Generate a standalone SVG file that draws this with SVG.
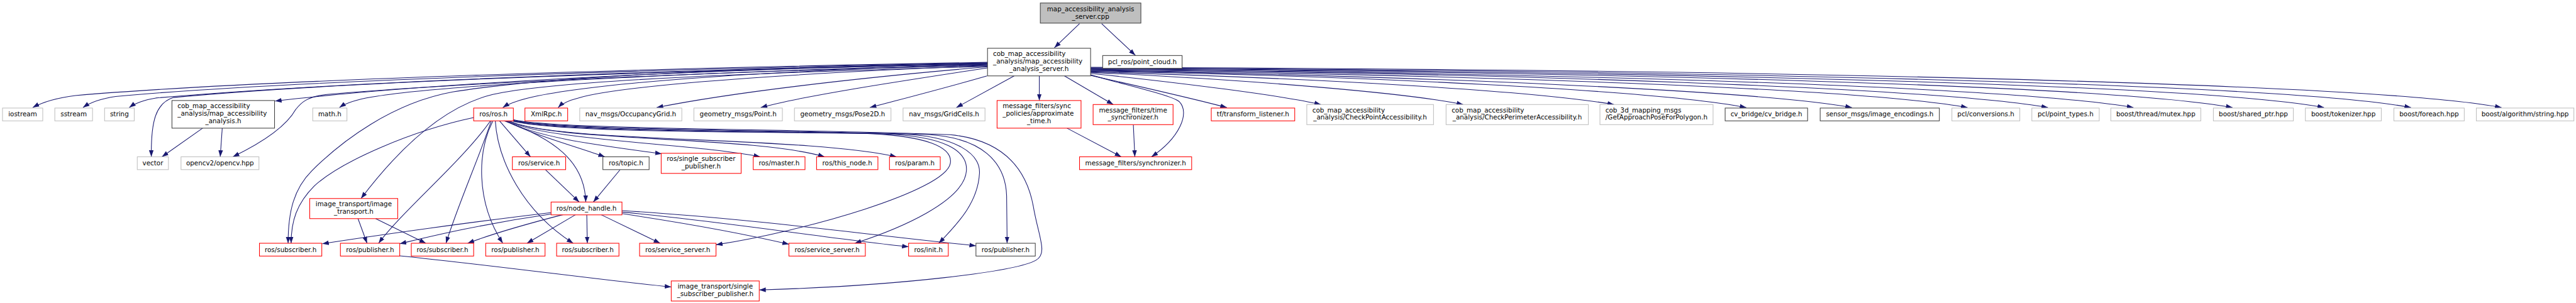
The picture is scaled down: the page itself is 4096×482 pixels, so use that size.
<svg xmlns="http://www.w3.org/2000/svg" width="4096" height="482" viewBox="0 0 4096 482">
<style>
.nd rect{fill:#fff;stroke-width:1.33}
.g rect{stroke:#bfbfbf}
.r rect{stroke:#ff0000}
.k rect{stroke:#404040}
#root rect{fill:#bfbfbf;stroke:#404040}
text{font-family:"DejaVu Sans",sans-serif;font-size:13px;fill:#000}
.m{text-anchor:middle}
#edges path{fill:none;stroke:#191970;stroke-width:1.33;marker-end:url(#a)}
</style>
<defs>
<marker id="a" viewBox="0 0 13 10" refX="13" refY="5" markerWidth="13" markerHeight="10" markerUnits="userSpaceOnUse" orient="auto"><path d="M0,0.4 L13,5 L0,9.6 z" fill="#191970"/></marker>
</defs>
<rect width="4096" height="482" fill="#fff"/>
<g transform="scale(0.7995)">
<g id="edges">
<path d="M2147,47 L2097,95"/>
<path d="M2191,47 L2258,110"/>
<path d="M1964,124 C1300,135 500,160 150,190 C110,195 85,203 65,214"/>
<path d="M1964,125 C1300,137 550,162 230,192 C195,197 178,205 165,214"/>
<path d="M1964,126 C1300,139 650,165 310,195 C285,199 268,206 257,214"/>
<path d="M1964,126 C1400,140 700,160 345,194 C310,205 300,240 301,312"/>
<path d="M1964,127 C1500,135 900,160 547,201"/>
<path d="M1964,130 C1500,140 900,165 650,188 C610,192 598,205 588,218 C570,250 525,282 463,312"/>
<path d="M1964,128 C1500,140 900,165 740,193 C710,198 688,205 675,214"/>
<path d="M1964,132 C1500,145 1100,160 980,188 C880,212 790,300 718,395"/>
<path d="M1964,127 C1500,135 1100,150 900,183 C780,205 680,280 620,340 C585,375 573,420 573,484"/>
<path d="M1964,129 C1600,138 1200,160 1050,195 C1030,200 1012,206 1000,214"/>
<path d="M1964,131 C1700,140 1250,165 1150,195 C1130,200 1118,206 1110,214"/>
<path d="M1964,133 C1700,155 1450,185 1306,214"/>
<path d="M1964,135 C1800,160 1600,190 1513,214"/>
<path d="M1963,151 C1880,175 1790,198 1730,214"/>
<path d="M2017,151 L1902,214"/>
<path d="M2067,151 L2067,200"/>
<path d="M2117,151 L2214,208"/>
<path d="M2169,149 C2250,172 2330,190 2345,202 C2368,225 2345,275 2290,312"/>
<path d="M2169,150 C2280,175 2380,198 2440,214"/>
<path d="M2169,146 C2350,165 2550,190 2627,208"/>
<path d="M2169,144 C2500,160 2800,185 2910,208"/>
<path d="M2169,143 C2600,155 3050,180 3210,208"/>
<path d="M2169,142 C2700,150 3300,180 3473,214"/>
<path d="M2169,141 C2800,150 3500,180 3683,214"/>
<path d="M2169,140 C2900,148 3700,175 3913,214"/>
<path d="M2169,139 C3000,145 3850,175 4073,214"/>
<path d="M2169,138 C3100,145 4000,172 4243,214"/>
<path d="M2169,137 C3200,143 4200,170 4440,214"/>
<path d="M2169,136 C3300,142 4380,168 4622,214"/>
<path d="M2169,135 C3400,140 4550,167 4795,214"/>
<path d="M2169,134 C3500,138 4720,165 4975,214"/>
<path d="M942,234 C820,260 680,320 625,370 C590,405 579,440 579,484"/>
<path d="M975,241 C920,320 800,420 753,484"/>
<path d="M977,241 C950,320 910,410 887,484"/>
<path d="M980,241 C950,300 945,400 1000,484"/>
<path d="M985,240 C990,320 1040,420 1140,484"/>
<path d="M993,240 L1055,312"/>
<path d="M1002,240 C1100,275 1163,320 1165,402"/>
<path d="M1004,240 C1060,268 1140,290 1203,312"/>
<path d="M1006,240 C1070,275 1200,290 1316,306"/>
<path d="M1008,240 C1080,280 1380,285 1512,312"/>
<path d="M1010,240 C1090,282 1500,270 1640,312"/>
<path d="M1012,240 C1100,285 1600,270 1783,312"/>
<path d="M1013,239 C1080,262 1400,262 1700,265 C1850,268 1895,295 1890,325 C1880,380 1600,460 1424,487"/>
<path d="M1014,239 C1080,261 1450,261 1750,266 C1880,270 1925,300 1922,340 C1918,400 1790,455 1700,484"/>
<path d="M1015,238 C1080,260 1500,260 1800,267 C1900,272 1950,305 1948,345 C1945,400 1910,440 1867,484"/>
<path d="M1016,238 C1080,259 1550,258 1850,268 C1950,275 2000,320 2002,390 L2003,484"/>
<path d="M1017,237 C1080,258 1600,256 1890,268 C1990,278 2040,330 2055,410 C2065,470 2085,505 2060,518 C2020,540 1800,568 1510,577"/>
<path d="M1096,423 C950,440 750,468 641,485"/>
<path d="M1096,426 C950,447 850,472 795,485"/>
<path d="M1120,427 C1050,445 980,465 930,484"/>
<path d="M1145,427 L1048,484"/>
<path d="M1167,427 L1168,484"/>
<path d="M1195,427 L1313,484"/>
<path d="M1237,425 C1350,442 1480,465 1569,486"/>
<path d="M1237,422 C1450,442 1650,475 1807,491"/>
<path d="M1237,419 C1500,435 1750,470 1941,489"/>
<path d="M1085,338 L1152,402"/>
<path d="M1233,338 L1180,402"/>
<path d="M712,435 L730,484"/>
<path d="M747,435 L847,484"/>
<path d="M795,509 C1000,530 1200,558 1335,571"/>
<path d="M403,255 L322,312"/>
<path d="M442,255 L438,312"/>
<path d="M2122,255 L2230,312"/>
<path d="M2254,248 L2257,312"/>
</g>
<g id="root" class="nd"><rect x="2069" y="6" width="200" height="40"/><text class="m" x="2169" y="22">map_accessibility_analysis</text><text class="m" x="2169" y="37">_server.cpp</text></g>
<g id="server" class="nd k"><rect x="1964" y="96" width="205" height="55"/><text x="1975" y="111">cob_map_accessibility</text><text x="1975" y="126">_analysis/map_accessibility</text><text class="m" x="2066.5" y="141">_analysis_server.h</text></g>
<g id="pcl_ros" class="nd k"><rect x="2193" y="110.5" width="158" height="25.5"/><text class="m" x="2272" y="127.5">pcl_ros/point_cloud.h</text></g>
<g id="iostream" class="nd g"><rect x="5" y="215" width="80" height="25.5"/><text class="m" x="45" y="232">iostream</text></g>
<g id="sstream" class="nd g"><rect x="109" y="215" width="75" height="25.5"/><text class="m" x="146.5" y="232">sstream</text></g>
<g id="string" class="nd g"><rect x="208" y="215" width="59" height="25.5"/><text class="m" x="237.5" y="232">string</text></g>
<g id="mapacc" class="nd k"><rect x="342" y="200" width="204" height="55"/><text x="353" y="215.5">cob_map_accessibility</text><text x="353" y="230.5">_analysis/map_accessibility</text><text class="m" x="444" y="245.5">_analysis.h</text></g>
<g id="math" class="nd g"><rect x="622" y="215" width="68" height="25.5"/><text class="m" x="656" y="232">math.h</text></g>
<g id="rosh" class="nd r"><rect x="942" y="215" width="79" height="25.5"/><text class="m" x="981.5" y="232">ros/ros.h</text></g>
<g id="xmlrpc" class="nd r"><rect x="1044" y="215" width="85" height="25.5"/><text class="m" x="1086.5" y="232">XmlRpc.h</text></g>
<g id="occgrid" class="nd g"><rect x="1153" y="215" width="203" height="25.5"/><text class="m" x="1254.5" y="232">nav_msgs/OccupancyGrid.h</text></g>
<g id="point" class="nd g"><rect x="1380" y="215" width="176" height="25.5"/><text class="m" x="1468" y="232">geometry_msgs/Point.h</text></g>
<g id="pose2d" class="nd g"><rect x="1580" y="215" width="192" height="25.5"/><text class="m" x="1676" y="232">geometry_msgs/Pose2D.h</text></g>
<g id="gridcells" class="nd g"><rect x="1796" y="215" width="163" height="25.5"/><text class="m" x="1877.5" y="232">nav_msgs/GridCells.h</text></g>
<g id="approx" class="nd r"><rect x="1983" y="200" width="167" height="55"/><text x="1994" y="215.5">message_filters/sync</text><text x="1994" y="230.5">_policies/approximate</text><text class="m" x="2066.5" y="245.5">_time.h</text></g>
<g id="timesync" class="nd r"><rect x="2174" y="208" width="159" height="40"/><text class="m" x="2253.5" y="223.5">message_filters/time</text><text class="m" x="2253.5" y="238">_synchronizer.h</text></g>
<g id="tf" class="nd r"><rect x="2409" y="215" width="166" height="25.5"/><text class="m" x="2492" y="232">tf/transform_listener.h</text></g>
<g id="checkpoint" class="nd g"><rect x="2599" y="208" width="252" height="40"/><text x="2610" y="223.5">cob_map_accessibility</text><text class="m" x="2725" y="238">_analysis/CheckPointAccessibility.h</text></g>
<g id="checkperim" class="nd g"><rect x="2876" y="208" width="283" height="40"/><text x="2887" y="223.5">cob_map_accessibility</text><text class="m" x="3017.5" y="238">_analysis/CheckPerimeterAccessibility.h</text></g>
<g id="getapproach" class="nd g"><rect x="3182" y="208" width="225" height="40"/><text x="3193" y="223.5">cob_3d_mapping_msgs</text><text class="m" x="3294.5" y="238">/GetApproachPoseForPolygon.h</text></g>
<g id="cvbridge" class="nd k"><rect x="3431" y="215" width="164" height="25.5"/><text class="m" x="3513" y="232">cv_bridge/cv_bridge.h</text></g>
<g id="imgenc" class="nd k"><rect x="3620" y="215" width="237" height="25.5"/><text class="m" x="3738.5" y="232">sensor_msgs/image_encodings.h</text></g>
<g id="conversions" class="nd g"><rect x="3882" y="215" width="135" height="25.5"/><text class="m" x="3949.5" y="232">pcl/conversions.h</text></g>
<g id="pointtypes" class="nd g"><rect x="4041" y="215" width="134" height="25.5"/><text class="m" x="4108" y="232">pcl/point_types.h</text></g>
<g id="mutex" class="nd g"><rect x="4198" y="215" width="179" height="25.5"/><text class="m" x="4287.5" y="232">boost/thread/mutex.hpp</text></g>
<g id="sharedptr" class="nd g"><rect x="4402" y="215" width="159" height="25.5"/><text class="m" x="4481.5" y="232">boost/shared_ptr.hpp</text></g>
<g id="tokenizer" class="nd g"><rect x="4585" y="215" width="151" height="25.5"/><text class="m" x="4660.5" y="232">boost/tokenizer.hpp</text></g>
<g id="foreach" class="nd g"><rect x="4761" y="215" width="140" height="25.5"/><text class="m" x="4831" y="232">boost/foreach.hpp</text></g>
<g id="algstring" class="nd g"><rect x="4925" y="215" width="194" height="25.5"/><text class="m" x="5022" y="232">boost/algorithm/string.hpp</text></g>
<g id="vector" class="nd g"><rect x="273" y="312" width="62" height="25.5"/><text class="m" x="304" y="329">vector</text></g>
<g id="opencv" class="nd g"><rect x="360" y="312" width="155" height="25.5"/><text class="m" x="437.5" y="329">opencv2/opencv.hpp</text></g>
<g id="service" class="nd r"><rect x="1019" y="312" width="106" height="25.5"/><text class="m" x="1072" y="329">ros/service.h</text></g>
<g id="topic" class="nd k"><rect x="1199" y="312" width="92" height="25.5"/><text class="m" x="1245" y="329">ros/topic.h</text></g>
<g id="singlesub" class="nd r"><rect x="1315" y="305" width="159" height="40"/><text class="m" x="1394.5" y="320.5">ros/single_subscriber</text><text class="m" x="1394.5" y="335">_publisher.h</text></g>
<g id="master" class="nd r"><rect x="1498" y="312" width="103" height="25.5"/><text class="m" x="1549.5" y="329">ros/master.h</text></g>
<g id="thisnode" class="nd r"><rect x="1624" y="312" width="122" height="25.5"/><text class="m" x="1685" y="329">ros/this_node.h</text></g>
<g id="param" class="nd r"><rect x="1769" y="312" width="101" height="25.5"/><text class="m" x="1819.5" y="329">ros/param.h</text></g>
<g id="synchronizer" class="nd r"><rect x="2147" y="312" width="223" height="25.5"/><text class="m" x="2258.5" y="329">message_filters/synchronizer.h</text></g>
<g id="imgtransport" class="nd r"><rect x="616" y="395" width="175" height="40"/><text class="m" x="703.5" y="410.5">image_transport/image</text><text class="m" x="703.5" y="425">_transport.h</text></g>
<g id="nodehandle" class="nd r"><rect x="1096" y="402" width="141" height="25.5"/><text class="m" x="1166.5" y="419">ros/node_handle.h</text></g>
<g id="sub1" class="nd r"><rect x="516" y="484" width="124" height="25.5"/><text class="m" x="578" y="501">ros/subscriber.h</text></g>
<g id="pub1" class="nd r"><rect x="677" y="484" width="118" height="25.5"/><text class="m" x="736" y="501">ros/publisher.h</text></g>
<g id="sub2" class="nd r"><rect x="818" y="484" width="124" height="25.5"/><text class="m" x="880" y="501">ros/subscriber.h</text></g>
<g id="pub2" class="nd r"><rect x="966" y="484" width="118" height="25.5"/><text class="m" x="1025" y="501">ros/publisher.h</text></g>
<g id="sub3" class="nd r"><rect x="1107" y="484" width="124" height="25.5"/><text class="m" x="1169" y="501">ros/subscriber.h</text></g>
<g id="ss1" class="nd r"><rect x="1272" y="484" width="152" height="25.5"/><text class="m" x="1348" y="501">ros/service_server.h</text></g>
<g id="ss2" class="nd r"><rect x="1569" y="484" width="152" height="25.5"/><text class="m" x="1645" y="501">ros/service_server.h</text></g>
<g id="init" class="nd r"><rect x="1807" y="484" width="79" height="25.5"/><text class="m" x="1846.5" y="501">ros/init.h</text></g>
<g id="pub3" class="nd k"><rect x="1941" y="484" width="118" height="25.5"/><text class="m" x="2000" y="501">ros/publisher.h</text></g>
<g id="itssp" class="nd r"><rect x="1335" y="559" width="175" height="40"/><text class="m" x="1422.5" y="574.5">image_transport/single</text><text class="m" x="1422.5" y="589">_subscriber_publisher.h</text></g>
</g>
</svg>
